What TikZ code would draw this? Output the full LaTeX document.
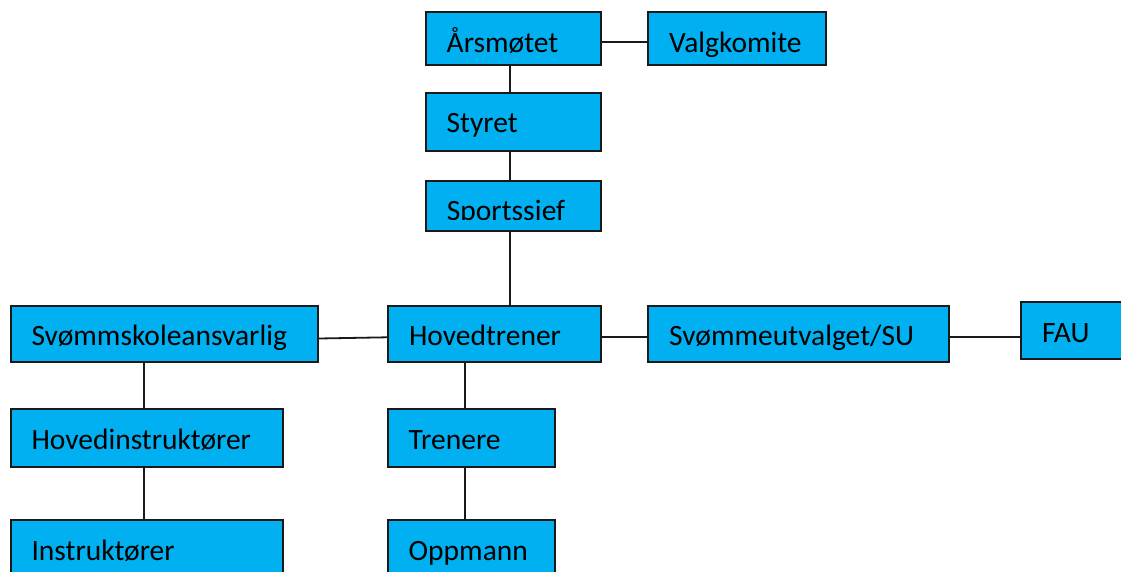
\documentclass[tikz,border=0pt]{standalone}
\usepackage{fontspec}
\setmainfont{Carlito}
\usepackage{xcolor}
\usepackage{tikz}
\usetikzlibrary{positioning,calc}

\definecolor{orgblue}{HTML}{00B0F0}
\newcommand{\orgfont}{\fontsize{29.5pt}{33pt}\selectfont}

\begin{document}
\begin{tikzpicture}[
    x=1pt, y=-1pt,
    unit/.style={draw=black!90, fill=orgblue, line width=2pt, anchor=north west,
        inner xsep=21pt, inner ysep=0pt, text height=40pt, align=left, font=\orgfont},
    link/.style={line width=1.8pt, draw=black!90}
]
    \useasboundingbox (0,0) rectangle (1121,572);
    \clip (0,0) rectangle (1121,572);

    % Top column
    \node[unit, text width=133pt, text depth=12.7pt] (arsmotet) at (424.7,11.3) {Årsmøtet};
    \node[unit, text width=135.7pt, text depth=12.7pt, right=45.5pt of arsmotet] (valgkomite) {Valgkomite};
    \node[unit, text width=133pt, text depth=17.7pt, below=26pt of arsmotet] (styret) {Styret};
    \node[unit, text width=133pt, text depth=9.7pt, below=28.5pt of styret] (sportssjef) {};
    \begin{scope}
        \clip (sportssjef.north west) rectangle ([yshift=-39.6pt]sportssjef.north east);
        \node[anchor=base west, inner sep=0pt, font=\orgfont] (sportssjeflabel)
            at ([xshift=22pt,yshift=-40pt]sportssjef.north west) {Sportssjef};
    \end{scope}

    % Middle row
    \node[unit, text width=265.5pt, text depth=16.6pt] (svommeskole) at (9.5,304.7) {Svømmskoleansvarlig};
    \node[unit, text width=170.7pt, text depth=16.6pt] (hovedtrener) at (387,304.7) {Hovedtrener};
    \node[unit, text width=258.7pt, text depth=16.6pt, right=45.5pt of hovedtrener] (svommeutvalg) {Svømmeutvalget/SU};
    \node[unit, text width=67pt, text depth=16.7pt] (fau) at (1020,301) {FAU};

    % Lower rows
    \node[unit, text width=230.2pt, text depth=18.3pt] (hovedinstruktorer) at (9.5,408) {Hovedinstruktører};
    \node[unit, text width=125.3pt, text depth=18.3pt] (trenere) at (386.7,408) {Trenere};
    \node[unit, text width=230.2pt, text depth=19pt, below=51pt of hovedinstruktorer] (instruktorer) {Instruktører};
    \node[unit, text width=125.3pt, text depth=19pt, below=51pt of trenere] (oppmann) {Oppmann};

    % Links
    \draw[link] ([yshift=-3pt]arsmotet.east) -- ([yshift=-3pt]valgkomite.west);
    \draw[link] ([xshift=-3.6pt]arsmotet.south) -- ([xshift=-3.6pt]styret.north);
    \draw[link] ([xshift=-3.6pt]styret.south) -- ([xshift=-3.6pt]sportssjef.north);
    \draw[link] ([xshift=-3.6pt]sportssjef.south) -- ([xshift=-3.6pt]sportssjef.south |- hovedtrener.north);
    \draw[link] ([yshift=-4.5pt]svommeskole.east) -- ([yshift=-3.3pt]hovedtrener.west);
    \draw[link] ([yshift=-3.3pt]hovedtrener.east) -- ([yshift=-3.3pt]svommeutvalg.west);
    \draw[link] ([yshift=-3.3pt]svommeutvalg.east) -- ([yshift=-3.3pt]svommeutvalg.east -| fau.west);
    \draw[link] ([xshift=-2.6pt]hovedinstruktorer.north) -- ([xshift=-2.6pt]hovedinstruktorer.north |- svommeskole.south);
    \draw[link] ([xshift=-2.6pt]hovedinstruktorer.south) -- ([xshift=-2.6pt]instruktorer.north);
    \draw[link] ([xshift=-6.3pt]trenere.north) -- ([xshift=-6.3pt]trenere.north |- hovedtrener.south);
    \draw[link] ([xshift=-6.3pt]trenere.south) -- ([xshift=-6.3pt]oppmann.north);
\end{tikzpicture}
\end{document}
